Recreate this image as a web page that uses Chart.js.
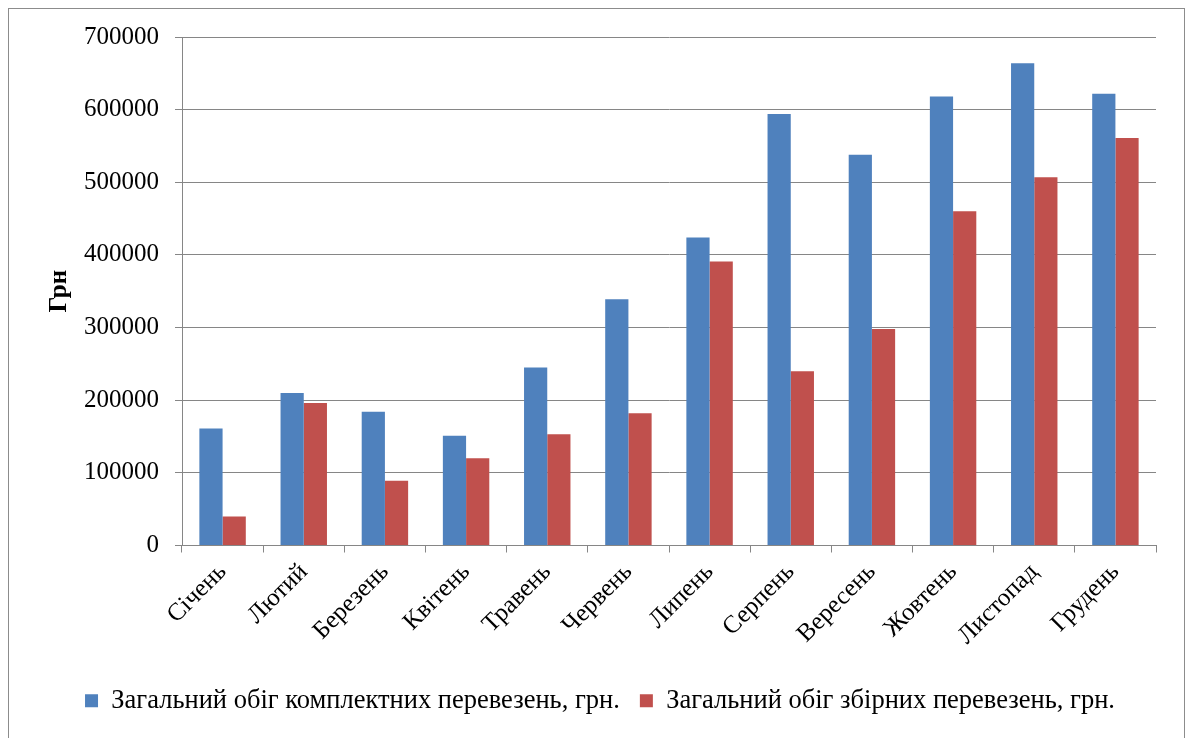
<!DOCTYPE html>
<html lang="uk">
<head>
<meta charset="utf-8">
<title>Загальний обіг перевезень, грн.</title>
<script src="https://cdn.jsdelivr.net/npm/chart.js@4.4.1/dist/chart.umd.min.js"></script>
<style>
  html, body { margin: 0; padding: 0; background: #ffffff; }
  #wrap { position: relative; width: 1186px; height: 738px; overflow: hidden; }
  #frame {
    position: absolute; left: 8px; top: 8px; width: 1177px; height: 740px;
    border: 1px solid #8c8c8c; box-sizing: border-box; pointer-events: none;
  }
  canvas { position: absolute; left: 0; top: 0; }
</style>
</head>
<body>
<div id="wrap">
  <canvas id="chart" width="1186" height="738"></canvas>
  <div id="frame"></div>
</div>
<script>
// Months shown on the category axis
const months = ['Січень', 'Лютий', 'Березень', 'Квітень', 'Травень', 'Червень',
                'Липень', 'Серпень', 'Вересень', 'Жовтень', 'Листопад', 'Грудень'];

// Total turnover of full-load shipments, UAH
const fullLoad = [161000, 210000, 184000, 151000, 245000, 339000,
                  424000, 594000, 538000, 618000, 664000, 622000];

// Total turnover of groupage shipments, UAH
const groupage = [40000, 196000, 89000, 120000, 153000, 182000,
                  391000, 240000, 298000, 460000, 507000, 561000];

const seriesNames = ['Загальний обіг комплектних перевезень, грн.',
                     'Загальний обіг збірних перевезень, грн.'];
const axisTitle = 'Грн';
const yMax = 700000;
const yStep = 100000;

const serif = '"Liberation Serif", "Times New Roman", "DejaVu Serif", serif';
const gridGray = '#868686';

// Nudges the legend row sideways so it sits centred under the whole frame
const legendShift = {
  id: 'legendShift',
  afterLayout(chart) {
    const lg = chart.legend;
    if (lg) { lg.left += 22; lg.right += 22; }
  }
};

new Chart(document.getElementById('chart'), {
  type: 'bar',
  data: {
    labels: months,
    datasets: [
      { label: seriesNames[0], data: fullLoad, backgroundColor: '#4F81BD',
        categoryPercentage: 0.572, barPercentage: 1.0 },
      { label: seriesNames[1], data: groupage, backgroundColor: '#C0504D',
        categoryPercentage: 0.572, barPercentage: 1.0 }
    ]
  },
  plugins: [legendShift],
  options: {
    responsive: false,
    animation: false,
    devicePixelRatio: 1,
    layout: { padding: { top: 37, right: 30, left: 0, bottom: 14 } },
    plugins: {
      tooltip: { enabled: false },
      legend: {
        position: 'bottom',
        labels: {
          font: { family: serif, size: 26.5 },
          color: '#000000',
          boxWidth: 13,
          boxHeight: 13,
          padding: 20
        }
      }
    },
    scales: {
      x: {
        offset: true,
        grid: {
          drawOnChartArea: false,
          drawTicks: true,
          tickLength: 7,
          color: gridGray,
          offset: true
        },
        border: { color: gridGray, width: 1 },
        ticks: {
          font: { family: serif, size: 25 },
          color: '#000000',
          maxRotation: 45,
          minRotation: 45,
          autoSkip: false,
          padding: 5
        },
        afterFit(scale) { scale.height = 122; }
      },
      y: {
        min: 0,
        max: yMax,
        grid: { color: gridGray, tickLength: 7, lineWidth: 1 },
        border: { color: gridGray, width: 1 },
        ticks: {
          stepSize: yStep,
          font: { family: serif, size: 25 },
          color: '#000000',
          padding: 16,
          callback: (v) => String(v)
        },
        title: {
          display: true,
          text: axisTitle,
          color: '#000000',
          font: { family: serif, size: 25, weight: 'bold' },
          padding: { top: 45, bottom: 0 }
        },
        afterFit(scale) { scale.width = 182; }
      }
    }
  }
});
</script>
</body>
</html>
